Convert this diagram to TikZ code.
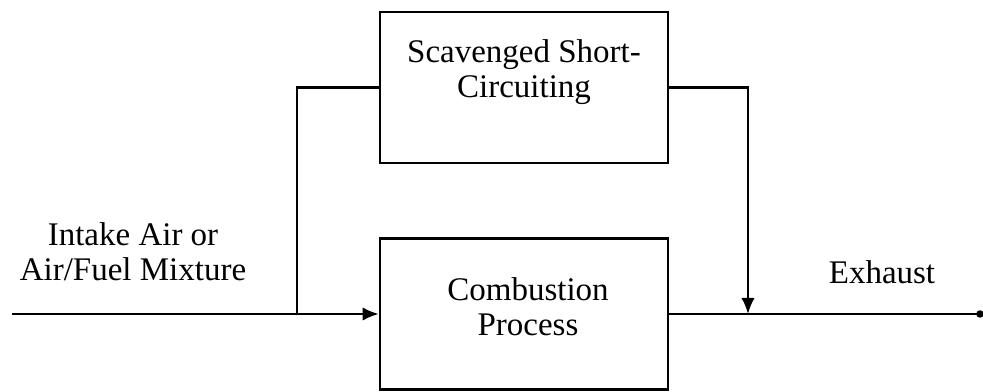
\documentclass[tikz,border=0pt]{standalone}
\usepackage{fontspec}
\setmainfont{Liberation Serif}
\usetikzlibrary{positioning}
\usetikzlibrary{arrows.meta}
\tikzset{
    block/.style = {rectangle, draw=black, line width=1.9pt, minimum width=216pt, minimum height=113pt, inner sep=0pt},
    blocktext/.style = {align=center, inner sep=0pt, font=\fontsize{24.75}{26}\selectfont},
    line/.style = {line width=1.6pt},
    flow/.style = {line width=1.6pt, -{Latex[length=12pt,width=10pt]}},
}
\begin{document}
\begin{tikzpicture}[x=0.75pt,y=-0.75pt]
\useasboundingbox (0,0) rectangle (983,392);
\node[block] at (524, 87.5) (scav) {};
\node[block] at (524, 314) (comb) {};
\node[blocktext] at (524, 72) (scavtext) {Scavenged Short-\\Circuiting};
\node[blocktext] at (528, 307) (combtext) {Combustion\\Process};
\node[blocktext] at (133, 252) (intake) {Intake Air or\\Air/Fuel Mixture};
\node[blocktext] at (882, 272) (exhaust) {Exhaust};
\coordinate (start) at (12, 314);
\coordinate (split) at (297, 314);
\coordinate (merge) at (748, 314);
\coordinate (finish) at (980, 314);

\draw[flow] (start) -- (comb.west);
\draw[line] (split) |- (scav.west);
\draw[flow] (scav.east) -| (merge);
\draw[line] (comb.east) -- (finish);
\fill (finish) circle (2.8pt);
\end{tikzpicture}
\end{document}
